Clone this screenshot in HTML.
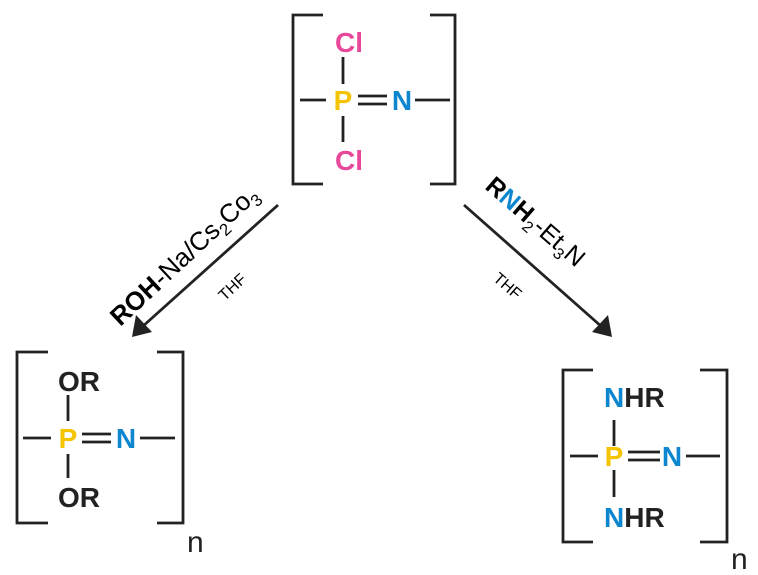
<!DOCTYPE html>
<html><head><style>
html,body{margin:0;padding:0;background:#fff;}
svg{display:block;}
.a{font-family:"Liberation Sans",sans-serif;font-weight:bold;font-size:28px;text-anchor:middle;}
.l{stroke:#222;stroke-width:2.8;fill:none;}
</style></head><body>
<svg width="758" height="575" viewBox="0 0 758 575" xmlns="http://www.w3.org/2000/svg">
<!-- top -->
<path class="l" d="M323,15 H293 V184 H323"/>
<path class="l" d="M430,15 H455 V184 H430"/>
<line class="l" x1="300" y1="100" x2="326" y2="100"/>
<line class="l" x1="415" y1="100" x2="450" y2="100"/>
<line class="l" x1="358" y1="96" x2="387" y2="96"/>
<line class="l" x1="358" y1="104" x2="387" y2="104"/>
<line class="l" x1="343" y1="57" x2="343" y2="84"/>
<line class="l" x1="343" y1="116" x2="343" y2="142"/>
<text class="a" x="349" y="52" fill="#e8489a">Cl</text>
<text class="a" x="343" y="110" fill="#f5c400">P</text>
<text class="a" x="402" y="110" fill="#0d86d0">N</text>
<text class="a" x="349" y="170" fill="#e8489a">Cl</text>
<!-- arrows -->
<line x1="278" y1="205" x2="142" y2="327" stroke="#222" stroke-width="2.8"/>
<path d="M132,337 L136,315 L152,332 z" fill="#222"/>
<line x1="464" y1="205" x2="602" y2="327" stroke="#222" stroke-width="2.8"/>
<path d="M612,337 L592,332 L608,315 z" fill="#222"/>
<g transform="translate(190,262) rotate(-43)" font-family="Liberation Sans,sans-serif" font-size="26">
<text x="0" y="0" text-anchor="middle"><tspan font-weight="bold">ROH</tspan>-Na/Cs<tspan font-size="17" dy="6">2</tspan><tspan dy="-6">Co</tspan><tspan font-size="17" dy="6">3</tspan></text>
</g>
<g transform="translate(236,291) rotate(-43)" font-family="Liberation Sans,sans-serif" font-size="16"><text text-anchor="middle">THF</text></g>
<g transform="translate(530,228) rotate(41)" font-family="Liberation Sans,sans-serif" font-size="25">
<text x="0" y="0" text-anchor="middle"><tspan font-weight="bold">R</tspan><tspan font-weight="bold" fill="#0d86d0">N</tspan><tspan font-weight="bold">H</tspan><tspan font-size="16" dy="6">2</tspan><tspan dy="-6">-Et</tspan><tspan font-size="16" dy="6">3</tspan><tspan dy="-6">N</tspan></text>
</g>
<g transform="translate(504,290) rotate(41)" font-family="Liberation Sans,sans-serif" font-size="16"><text text-anchor="middle">THF</text></g>
<!-- left product -->
<path class="l" d="M48,352 H17 V523 H48"/>
<path class="l" d="M157,352 H183 V523 H157"/>
<line class="l" x1="23" y1="438" x2="51" y2="438"/>
<line class="l" x1="140" y1="438" x2="175" y2="438"/>
<line class="l" x1="82" y1="434" x2="111" y2="434"/>
<line class="l" x1="82" y1="442" x2="111" y2="442"/>
<line class="l" x1="68" y1="395" x2="68" y2="421"/>
<line class="l" x1="68" y1="454" x2="68" y2="478"/>
<text class="a" x="79" y="391" fill="#222">OR</text>
<text class="a" x="68" y="448" fill="#f5c400">P</text>
<text class="a" x="126" y="448" fill="#0d86d0">N</text>
<text class="a" x="79" y="507" fill="#222">OR</text>
<text x="187" y="552" font-family="Liberation Sans,sans-serif" font-size="30" fill="#222">n</text>
<!-- right product -->
<path class="l" d="M593,370 H563 V542 H593"/>
<path class="l" d="M700,370 H727 V542 H700"/>
<line class="l" x1="570" y1="456" x2="598" y2="456"/>
<line class="l" x1="686" y1="456" x2="720" y2="456"/>
<line class="l" x1="628" y1="452" x2="660" y2="452"/>
<line class="l" x1="628" y1="460" x2="660" y2="460"/>
<line class="l" x1="614" y1="420" x2="614" y2="446"/>
<line class="l" x1="614" y1="470" x2="614" y2="497"/>
<text class="a" x="604" y="407" style="text-anchor:start"><tspan fill="#0d86d0">N</tspan><tspan fill="#222">HR</tspan></text>
<text class="a" x="614" y="466" fill="#f5c400">P</text>
<text class="a" x="672" y="466" fill="#0d86d0">N</text>
<text class="a" x="604" y="527" style="text-anchor:start"><tspan fill="#0d86d0">N</tspan><tspan fill="#222">HR</tspan></text>
<text x="731" y="569" font-family="Liberation Sans,sans-serif" font-size="30" fill="#222">n</text>
</svg>
</body></html>
